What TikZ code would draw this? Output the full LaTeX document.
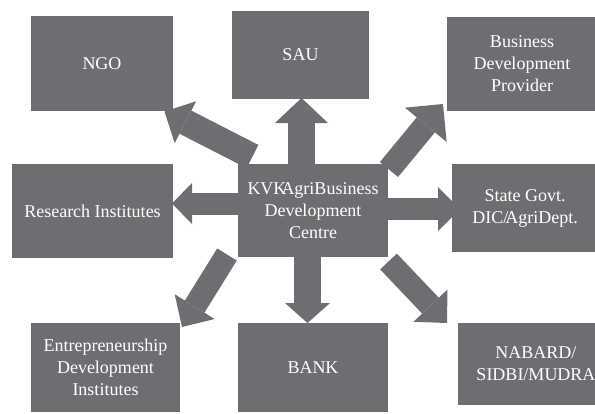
\documentclass[tikz,border=0pt]{standalone}
\usepackage{fontspec}
\setmainfont{Liberation Serif}
\usetikzlibrary{arrows.meta}
\definecolor{boxgray}{RGB}{109,110,113}
\begin{document}
\begin{tikzpicture}[x=1pt,y=-1pt,
  box/.style={fill=boxgray, draw=none, text=white, inner sep=0pt, align=center,
    font=\fontsize{18}{22}\selectfont},
  blk/.style n args={3}{draw=boxgray, line width=#1,
    -{Triangle[width=#2, length=#3, line width=0pt]}}]
\useasboundingbox (0,0) rectangle (595,413);
% boxes
\node[box, minimum width=142pt, minimum height=95pt] (ngo) at (102,63.5) {NGO};
\node[box, minimum width=137pt, minimum height=88pt] (sau) at (300.5,55) {SAU};
\node[box, minimum width=150pt, minimum height=94pt] (bdp) at (522,64) {Business\\Development\\Provider};
\node[box, minimum width=161pt, minimum height=94pt] (ri) at (92.5,211) {Research Institutes};
\node[box, minimum width=150pt, minimum height=93pt] (kvk) at (313,210.5) {KVK\kern-5pt AgriBusiness\\Development\\Centre};
\node[box, minimum width=146pt, minimum height=88pt] (sg) at (525,208) {State Govt.\\DIC/\kern-3pt AgriDept.};
\node[box, minimum width=149pt, minimum height=89pt] (edi) at (105.5,367.5) {Entrepreneurship\\Development\\Institutes};
\node[box, minimum width=150pt, minimum height=89pt] (bank) at (313,367.5) {BANK};
\node[box, minimum width=156pt, minimum height=82pt] (nab) at (536,364) {NABARD/\\SIDBI/MUDRA};
% arrow end points
\coordinate (tngo) at (252.5,156.5); \coordinate (pngo) at (164.5,111.5);
\coordinate (tsau) at (301.5,164);   \coordinate (psau) at (301.5,98);
\coordinate (tbdp) at (389,169.5);   \coordinate (pbdp) at (443,104);
\coordinate (tri)  at (238,203.5);   \coordinate (pri)  at (172,203.5);
\coordinate (tsg)  at (387,209);     \coordinate (psg)  at (460,209);
\coordinate (tedi) at (227,254.5);   \coordinate (pedi) at (182,327);
\coordinate (tbank) at (307.5,257);  \coordinate (pbank) at (307.5,323);
\coordinate (tnab) at (388.5,261.5); \coordinate (pnab) at (447,323);
% block arrows
\draw[blk={26pt}{47pt}{23.5pt}] (tngo) -- (pngo);
\draw[blk={27pt}{53pt}{25pt}] (tsau) -- (psau);
\draw[blk={23.5pt}{54pt}{27pt}] (tbdp) -- (pbdp);
\draw[blk={22pt}{41pt}{20pt}] (tri) -- (pri);
\draw[blk={22pt}{44pt}{22pt}] (tsg) -- (psg);
\draw[blk={23pt}{47pt}{24pt}] (tedi) -- (pedi);
\draw[blk={27pt}{45pt}{20pt}] (tbank) -- (pbank);
\draw[blk={23pt}{47pt}{24pt}] (tnab) -- (pnab);
\end{tikzpicture}
\end{document}
